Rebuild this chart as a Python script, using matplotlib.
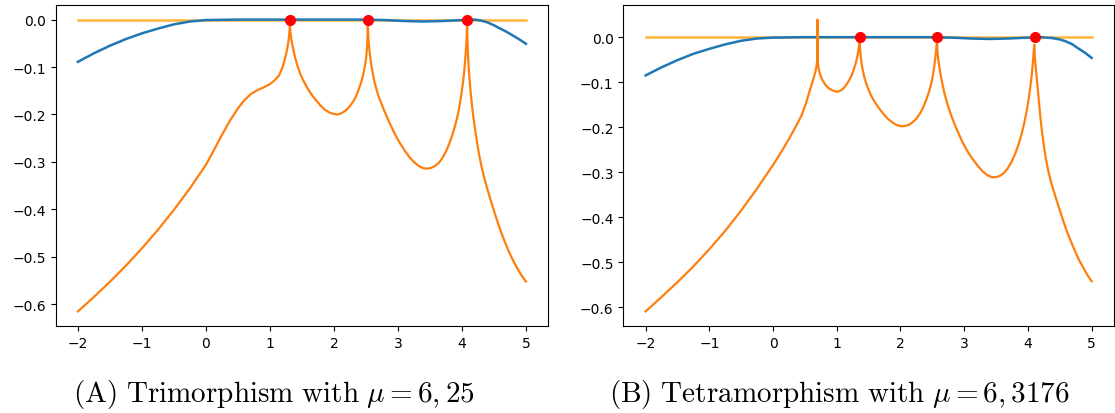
import numpy as np
import matplotlib
matplotlib.use('Agg')
import matplotlib.pyplot as plt

plt.rcParams['mathtext.fontset'] = 'cm'

# ---- panel A : trimorphism ----
blue_x_a = [-2, -1.75, -1.5, -1.25, -1, -0.75, -0.5, -0.25, 0, 0.5, 1.0, 1.5, 2.0, 2.5,
            2.8, 3.1, 3.4, 3.7, 4.0, 4.2, 4.3, 4.4, 4.5, 4.6, 4.7, 4.8, 4.9, 5.0]
blue_y_a = [-0.089, -0.071, -0.055, -0.041, -0.029, -0.019, -0.010, -0.004, -0.001, 0, 0, 0, 0, 0,
            -0.001, -0.003, -0.004, -0.003, -0.001, 0.0, -0.002, -0.006, -0.012, -0.019, -0.026,
            -0.034, -0.042, -0.051]

orange_x_a = [-2.0, -1.75, -1.5, -1.25, -1.0, -0.75, -0.5, -0.25, 0.0, 0.125, 0.25, 0.375, 0.5,
              0.6, 0.7, 0.8, 0.9, 1.0, 1.08, 1.14, 1.19, 1.23, 1.26, 1.28, 1.295, 1.304, 1.309, 1.312,
              1.315, 1.32, 1.33, 1.345, 1.365, 1.39, 1.427, 1.47, 1.52, 1.583, 1.65, 1.72, 1.79, 1.86,
              1.93, 2.0, 2.06, 2.12, 2.18, 2.24, 2.3, 2.35, 2.39, 2.43, 2.46, 2.485, 2.503, 2.515,
              2.522, 2.526, 2.528, 2.529,
              2.531, 2.536, 2.545, 2.56, 2.585, 2.623, 2.66, 2.7, 2.78, 2.86, 2.94, 3.02, 3.1, 3.18,
              3.25, 3.32, 3.39, 3.45, 3.51, 3.57, 3.63, 3.69, 3.75, 3.8, 3.85, 3.9, 3.94, 3.98, 4.01,
              4.035, 4.053, 4.066, 4.074, 4.078, 4.08,
              4.082, 4.086, 4.091, 4.097, 4.106, 4.118, 4.135, 4.157, 4.18, 4.21, 4.24, 4.27, 4.3,
              4.34, 4.39, 4.443, 4.5, 4.56, 4.62, 4.68, 4.74, 4.8, 4.86, 4.93, 5.0]
orange_y_a = [-0.615, -0.5845, -0.5525, -0.5185, -0.482, -0.443, -0.401, -0.3555, -0.306, -0.275,
              -0.243, -0.213, -0.187, -0.170, -0.157, -0.149, -0.143, -0.136, -0.127, -0.118, -0.103,
              -0.085, -0.068, -0.054, -0.040, -0.027, -0.017, 0.0,
              -0.016, -0.026, -0.038, -0.050, -0.063, -0.078, -0.096, -0.113, -0.128, -0.144, -0.158,
              -0.170, -0.181, -0.190, -0.196, -0.199, -0.200, -0.197, -0.192, -0.184, -0.173, -0.160,
              -0.146, -0.130, -0.114, -0.097, -0.080, -0.063, -0.046, -0.030, -0.018, 0.0,
              -0.018, -0.034, -0.052, -0.072, -0.097, -0.125, -0.145, -0.163, -0.190, -0.215, -0.238,
              -0.258, -0.275, -0.290, -0.300, -0.308, -0.313, -0.314, -0.313, -0.309, -0.303, -0.293,
              -0.278, -0.262, -0.243, -0.220, -0.198, -0.167, -0.139, -0.110, -0.080, -0.055, -0.034,
              -0.018, 0.0,
              -0.020, -0.040, -0.060, -0.080, -0.102, -0.125, -0.152, -0.181, -0.207, -0.236, -0.262,
              -0.286, -0.306, -0.329, -0.354, -0.378, -0.403, -0.428, -0.451, -0.472, -0.491, -0.508,
              -0.523, -0.539, -0.552]
roots_a = [1.312, 2.529, 4.08]

# ---- panel B : tetramorphism ----
blue_x_b = [-2, -1.75, -1.5, -1.25, -1, -0.75, -0.5, -0.25, 0, 0.5, 1.0, 1.5, 2.0, 2.5,
            2.8, 3.1, 3.4, 3.7, 4.0, 4.2, 4.38, 4.5, 4.59, 4.7, 4.78, 4.9, 5.0]
blue_y_b = [-0.085, -0.067, -0.051, -0.037, -0.026, -0.016, -0.008, -0.003, -0.001, 0, 0, 0, 0, 0,
            -0.001, -0.003, -0.004, -0.003, -0.001, 0.0, -0.002, -0.005, -0.009, -0.016, -0.024,
            -0.035, -0.046]

orange_x_b = [-2.0, -1.75, -1.5, -1.25, -1.0, -0.75, -0.5, -0.25, 0.0, 0.125, 0.25, 0.375, 0.45,
              0.52, 0.58, 0.62, 0.65, 0.67, 0.683, 0.691, 0.695, 0.697, 0.699,
              0.703, 0.71, 0.72, 0.74, 0.77, 0.817, 0.87, 0.93, 0.99, 1.04, 1.09, 1.14, 1.19, 1.23,
              1.27, 1.3, 1.32, 1.336, 1.348, 1.355, 1.358,
              1.361, 1.367, 1.376, 1.39, 1.41, 1.44, 1.475, 1.515, 1.56, 1.61, 1.67, 1.73, 1.8, 1.87,
              1.94, 2.01, 2.07, 2.13, 2.19, 2.25, 2.3, 2.35, 2.4, 2.44, 2.475, 2.505, 2.53, 2.548,
              2.56, 2.568, 2.574,
              2.576, 2.581, 2.59, 2.6, 2.62, 2.65, 2.69, 2.73, 2.78, 2.84, 2.9, 2.97, 3.05, 3.13,
              3.21, 3.29, 3.37, 3.44, 3.5, 3.56, 3.62, 3.68, 3.74, 3.8, 3.85, 3.9, 3.94, 3.98, 4.01,
              4.04, 4.06, 4.077, 4.088, 4.095, 4.1,
              4.104, 4.11, 4.12, 4.135, 4.155, 4.18, 4.2, 4.22, 4.25, 4.28, 4.32, 4.37, 4.437, 4.5,
              4.56, 4.62, 4.68, 4.74, 4.8, 4.87, 4.93, 5.0]
orange_y_b = [-0.609, -0.577, -0.544, -0.509, -0.471, -0.430, -0.385, -0.336, -0.284, -0.256,
              -0.226, -0.194, -0.173, -0.146, -0.117, -0.099, -0.085, -0.074, -0.064, -0.055, -0.045,
              0.039, -0.045,
              -0.055, -0.064, -0.072, -0.083, -0.094, -0.105, -0.113, -0.118, -0.121, -0.120, -0.116,
              -0.108, -0.097, -0.086, -0.071, -0.057, -0.045, -0.033, -0.022, -0.012, 0.0,
              -0.016, -0.028, -0.042, -0.058, -0.074, -0.093, -0.108, -0.122, -0.135, -0.147, -0.159,
              -0.170, -0.181, -0.189, -0.195, -0.198, -0.197, -0.195, -0.189, -0.181, -0.171, -0.158,
              -0.141, -0.125, -0.108, -0.088, -0.066, -0.045, -0.030, -0.017, 0.0,
              -0.017, -0.032, -0.046, -0.056, -0.075, -0.098, -0.124, -0.145, -0.167, -0.190, -0.210,
              -0.232, -0.253, -0.270, -0.285, -0.298, -0.307, -0.311, -0.311, -0.308, -0.302, -0.292,
              -0.278, -0.259, -0.240, -0.216, -0.193, -0.165, -0.139, -0.109, -0.085, -0.060, -0.040,
              -0.025, -0.017,
              -0.030, -0.045, -0.062, -0.085, -0.115, -0.153, -0.183, -0.208, -0.240, -0.268, -0.297,
              -0.325, -0.356, -0.384, -0.410, -0.434, -0.455, -0.475, -0.494, -0.512, -0.527, -0.542]
roots_b = [1.358, 2.574, 4.113]

flat_x = [-2, 5]
flat_y = [0, 0]

captions = [r'$\mathrm{(A)\ Trimorphism\ with\ }\mu=6,25$',
            r'$\mathrm{(B)\ Tetramorphism\ with\ }\mu=6,3176$']

fig = plt.figure(figsize=(11.15, 4.14), dpi=100)
ax_a = fig.add_axes([0.0498, 0.2101, 0.4420, 0.7754])
ax_b = fig.add_axes([0.5590, 0.2101, 0.4400, 0.7754])

panels = [(ax_a, blue_x_a, blue_y_a, orange_x_a, orange_y_a, roots_a),
          (ax_b, blue_x_b, blue_y_b, orange_x_b, orange_y_b, roots_b)]

for ax, bx, by, ox, oy, roots in panels:
    ax.plot(flat_x, flat_y, color='#ffb43a', lw=1.8)
    ax.plot(bx, by, color='tab:blue', lw=1.8)
    ax.plot(ox, oy, color='tab:orange', lw=1.6)
    ax.plot(roots, np.zeros(len(roots)), 'ro', markersize=7)
    ax.set_xticks(range(-2, 6))
    ax.set_yticks(np.arange(-0.6, 0.01, 0.1))

fig.text(0.246, 0.028, captions[0], ha='center', va='baseline', fontsize=21)
fig.text(0.753, 0.028, captions[1], ha='center', va='baseline', fontsize=21)

fig.savefig('out.png', dpi=100)
